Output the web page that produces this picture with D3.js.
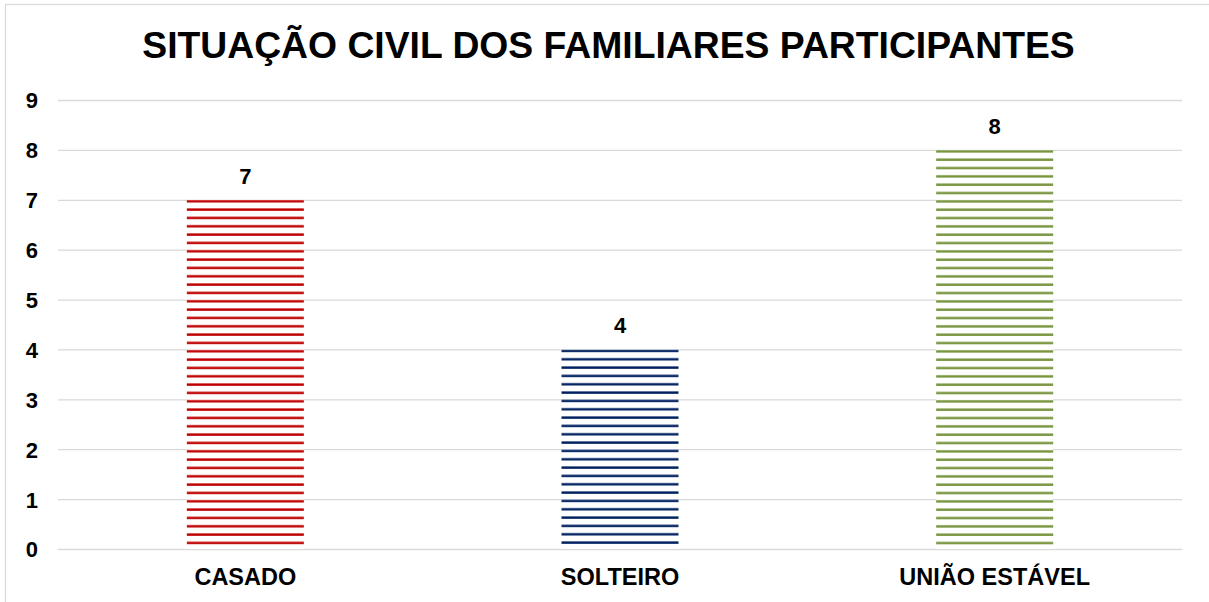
<!DOCTYPE html>
<html>
<head>
<meta charset="utf-8">
<script src="https://cdn.jsdelivr.net/npm/d3@7"></script>
<style>
  body { margin: 0; background: #fff; }
  text { font-family: "Liberation Sans", Arial, sans-serif; font-weight: bold; fill: #000; }
</style>
</head>
<body>
<main></main>
<script>
const TITLE = "SITUAÇÃO CIVIL DOS FAMILIARES PARTICIPANTES";
const categories = ["CASADO", "SOLTEIRO", "UNIÃO ESTÁVEL"];
const values = [7, 4, 8];
const yTicks = [0, 1, 2, 3, 4, 5, 6, 7, 8, 9];
const colors = ["#C00000", "#002060", "#77933C"];

const WIDTH = 1209, HEIGHT = 602;
const STRIPE = 50 / 6;

var svg = d3.select("main").append("svg")
            .attr("width", WIDTH)
            .attr("height", HEIGHT);

// chart border
svg.append("rect")
   .attr("x", 5.5).attr("y", 4.5)
   .attr("width", WIDTH).attr("height", HEIGHT)
   .style("fill", "white")
   .style("stroke", "#d9d9d9")
   .style("stroke-width", 1.2);

var x = d3.scaleBand()
          .domain(categories)
          .range([58, 1182])
          .paddingInner(0.6877)
          .paddingOuter(0.6877 / 2);

var y = d3.scaleLinear()
          .domain([0, 9])
          .range([549, 100]);

// gridlines
var grid = svg.append("g")
              .attr("transform", "translate(58,0)")
              .call(d3.axisLeft(y).tickValues(yTicks).tickSize(-1124).tickFormat(""));
grid.select(".domain").remove();
grid.selectAll("line").style("stroke", "#d9d9d9").style("stroke-width", 1.3);

// y tick labels
var yAxis = svg.append("g")
               .attr("transform", "translate(38,0)")
               .call(d3.axisLeft(y).tickValues(yTicks).tickSize(0).tickPadding(0).tickFormat(d3.format("d")));
yAxis.select(".domain").remove();
yAxis.selectAll("text")
     .attr("dy", "0.36em")
     .style("font-size", "22px")
     .style("font-family", "'Liberation Sans', Arial, sans-serif")
     .style("font-weight", "bold")
     .style("fill", "#000");

// striped fills, one per bar
var defs = svg.append("defs");
categories.forEach(function (c, i) {
    var p = defs.append("pattern")
                .attr("id", "stripe-" + i)
                .attr("patternUnits", "userSpaceOnUse")
                .attr("x", 0)
                .attr("y", y(values[i]))
                .attr("width", 20)
                .attr("height", STRIPE);
    p.append("rect")
     .attr("x", 0).attr("y", 0)
     .attr("width", 20).attr("height", STRIPE)
     .style("fill", "white");
    p.append("rect")
     .attr("x", 0).attr("y", 0.3)
     .attr("width", 20).attr("height", 2.4)
     .style("fill", colors[i]);
});

svg.selectAll(".bar")
   .data(values)
   .enter().append("rect")
   .attr("class", "bar")
   .attr("x", function (d, i) { return x(categories[i]); })
   .attr("y", function (d) { return y(d); })
   .attr("width", x.bandwidth())
   .attr("height", function (d) { return y(0) - y(d); })
   .style("fill", function (d, i) { return "url(#stripe-" + i + ")"; });

// data labels
svg.selectAll(".val")
   .data(values)
   .enter().append("text")
   .attr("class", "val")
   .attr("x", function (d, i) { return x(categories[i]) + x.bandwidth() / 2; })
   .attr("y", function (d) { return y(d) - 16; })
   .attr("text-anchor", "middle")
   .style("font-size", "22px")
   .text(function (d) { return d; });

// category labels
var xAxis = svg.append("g")
               .attr("transform", "translate(0," + y(0) + ")")
               .call(d3.axisBottom(x).tickSize(0).tickPadding(0));
xAxis.select(".domain").remove();
xAxis.selectAll("text")
     .attr("y", 36)
     .attr("dy", 0)
     .style("font-size", "23.5px")
     .style("font-family", "'Liberation Sans', Arial, sans-serif")
     .style("font-weight", "bold")
     .style("fill", "#000");

// title
svg.append("text")
   .attr("x", 608.5)
   .attr("y", 58)
   .attr("text-anchor", "middle")
   .style("font-size", "37.3px")
   .text(TITLE);
</script>
</body>
</html>
